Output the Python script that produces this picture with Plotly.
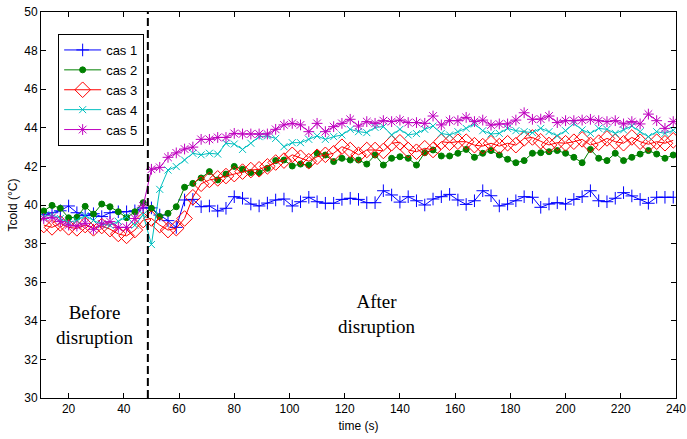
import plotly.graph_objects as go

# sample times (s)
time_s = [11 + 3 * k for k in range(77)]

cas1 = [39.5, 39.6, 39.7, 39.95, 39.6, 39.45, 39.55, 39.4, 39.6, 39.65,
        39.65, 39.7, 39.85, 39.85, 39.48, 39.19, 38.84, 40.26, 40.29, 39.91,
        39.95, 39.69, 39.83, 40.43, 40.35, 40.05, 39.95, 40.1, 40.26, 40.31,
        39.95, 40.17, 40.4, 40.17, 40.09, 40.09, 40.29, 40.35, 40.29, 40.12,
        40.12, 40.74, 40.52, 40.15, 40.43, 40.22, 40.0, 40.31, 40.43, 40.55,
        40.26, 40.03, 40.22, 40.74, 40.48, 39.95, 40.05, 40.22, 40.43, 40.4,
        39.88, 40.05, 40.12, 40.05, 40.29, 40.43, 40.74, 40.22, 40.17, 40.35,
        40.64, 40.47, 40.29, 40.09, 40.4, 40.4, 40.4]

cas2 = [39.69, 39.98, 39.83, 39.34, 39.36, 39.93, 39.53, 40.05, 39.91, 39.65,
        39.34, 39.65, 40.12, 39.83, 39.4, 39.57, 39.91, 40.92, 41.12, 41.4,
        41.73, 41.3, 41.6, 42.0, 41.85, 41.68, 41.68, 41.9, 42.3, 42.33,
        42.02, 42.12, 42.07, 42.68, 42.59, 42.25, 42.42, 42.33, 42.33, 42.12,
        42.59, 42.07, 42.42, 42.5, 42.42, 42.07, 42.71, 42.85, 42.54, 42.54,
        42.68, 42.88, 42.47, 42.68, 42.82, 42.59, 42.37, 42.19, 42.3, 42.68,
        42.71, 42.76, 42.82, 42.68, 42.47, 42.19, 42.88, 42.42, 42.3, 42.68,
        42.3, 42.47, 42.64, 42.82, 42.64, 42.42, 42.59]

cas3 = [38.96, 38.84, 39.05, 38.84, 38.79, 38.96, 38.79, 38.91, 38.75, 38.5,
        38.4, 38.7, 39.22, 39.3, 38.96, 38.7, 38.8, 39.3, 40.4, 41.1,
        41.3, 41.38, 41.5, 41.6, 41.73, 41.81, 41.85, 42.0, 42.2, 42.3,
        42.6, 42.45, 42.27, 42.5, 42.6, 42.68, 43.02, 42.85, 42.6, 42.85,
        42.85, 42.8, 43.2, 43.25, 42.85, 42.76, 42.94, 42.85, 43.28, 43.23,
        43.28, 43.28, 43.1, 43.05, 43.2, 43.05, 43.2, 43.1, 43.45, 43.5,
        43.3, 43.11, 43.23, 43.2, 43.28, 43.4, 43.11, 43.23, 43.45, 43.28,
        43.2, 43.5, 43.28, 43.15, 43.28, 43.2, 43.35]

cas4 = [39.4, 39.5, 39.3, 39.1, 39.2, 39.45, 39.2, 39.0, 38.95, 39.15,
        39.4, 38.95, 39.5, 37.95, 40.81, 41.81, 41.99, 42.33, 42.68, 42.6,
        42.68, 42.64, 43.2, 43.16, 42.88, 43.2, 43.54, 43.58, 43.45, 43.02,
        43.23, 43.23, 43.4, 43.58, 43.4, 43.54, 43.63, 43.92, 43.8, 43.75,
        44.02, 44.06, 43.63, 43.92, 43.63, 43.7, 43.92, 44.09, 43.71, 43.63,
        43.8, 43.97, 44.2, 43.85, 43.68, 43.71, 43.97, 43.85, 43.8, 43.75,
        43.97, 43.8, 43.58, 43.85, 44.23, 43.89, 43.71, 43.97, 43.92, 43.71,
        43.89, 44.09, 43.8, 43.54, 43.8, 43.71, 43.87]

cas5 = [39.3, 39.36, 39.14, 38.96, 38.91, 39.05, 38.74, 39.02, 39.14, 38.84,
        38.84, 39.3, 39.95, 41.85, 41.95, 42.47, 42.7, 42.9, 43.0, 43.4,
        43.4, 43.5, 43.5, 43.71, 43.68, 43.68, 43.68, 43.68, 43.92, 44.15,
        44.23, 44.15, 43.8, 44.23, 43.8, 44.06, 44.23, 44.44, 44.09, 44.32,
        44.23, 44.37, 44.32, 44.4, 44.27, 44.27, 44.23, 44.61, 44.15, 44.37,
        44.37, 44.54, 44.32, 44.4, 44.14, 44.2, 44.2, 44.4, 44.78, 44.44,
        44.45, 44.61, 44.27, 44.37, 44.37, 44.4, 44.44, 44.37, 44.32, 44.37,
        44.2, 44.32, 44.2, 44.71, 44.37, 43.97, 44.32]

series_names = ["cas 1", "cas 2", "cas 3", "cas 4", "cas 5"]
series_values = [cas1, cas2, cas3, cas4, cas5]

x_ticks = list(range(20, 241, 20))
y_ticks = list(range(30, 51, 2))
disruption_time = 48.7

colors = ["#0000FF", "#008000", "#FF0000", "#00BFBF", "#BF00BF"]
symbols = ["cross-thin-open", "circle", "diamond-open", "x-thin-open", "asterisk-open"]
msizes = [9, 6, 12, 7, 9]

fig = go.Figure()
for name, vals, c, s, ms in zip(series_names, series_values, colors, symbols, msizes):
    assert len(vals) == len(time_s)
    fig.add_trace(go.Scatter(
        x=time_s, y=vals, name=name, mode="lines+markers",
        line=dict(color=c, width=1),
        marker=dict(symbol=s, size=ms, color=c, line=dict(color=c, width=1)),
    ))

fig.add_shape(type="line", xref="x", yref="paper", x0=disruption_time, x1=disruption_time,
              y0=0, y1=1, line=dict(color="black", width=2, dash="8px,4px"))

serif = "Liberation Serif, Times New Roman, serif"
fig.add_annotation(x=29.6, y=33.8, xref="x", yref="y", text="Before<br>disruption",
                   showarrow=False, font=dict(family=serif, size=19, color="black"))
fig.add_annotation(x=131.8, y=34.35, xref="x", yref="y", text="After<br>disruption",
                   showarrow=False, font=dict(family=serif, size=19, color="black"))

sans = "Liberation Sans Narrow, Liberation Sans, Arial, sans-serif"
axis_common = dict(showgrid=False, zeroline=False, showline=True, linecolor="black",
                   linewidth=1, mirror="ticks", ticks="inside", ticklen=5,
                   tickcolor="black", automargin=False,
                   tickfont=dict(family=sans, size=12, color="black"))
fig.update_xaxes(range=[10, 240], tickvals=x_ticks,
                 title=dict(text="time (s)", font=dict(family=sans, size=12, color="black"), standoff=6),
                 **axis_common)
fig.update_yaxes(range=[30, 50], tickvals=y_ticks,
                 title=dict(text="Tcold (°C)", font=dict(family=sans, size=12, color="black"), standoff=4),
                 **axis_common)

fig.update_layout(
    width=687, height=439,
    margin=dict(l=41, r=11, t=12, b=41),
    plot_bgcolor="white", paper_bgcolor="white",
    font=dict(family=sans, size=12, color="black"),
    legend=dict(x=0.027, y=0.943, xanchor="left", yanchor="top",
                bgcolor="white", bordercolor="black", borderwidth=1,
                font=dict(family=sans, size=13, color="black"),
                itemwidth=37, tracegroupgap=0),
    showlegend=True,
)

fig.write_html("out.html", config={"displayModeBar": False},
               post_script="document.body.style.margin='0';document.body.style.overflow='hidden';")
